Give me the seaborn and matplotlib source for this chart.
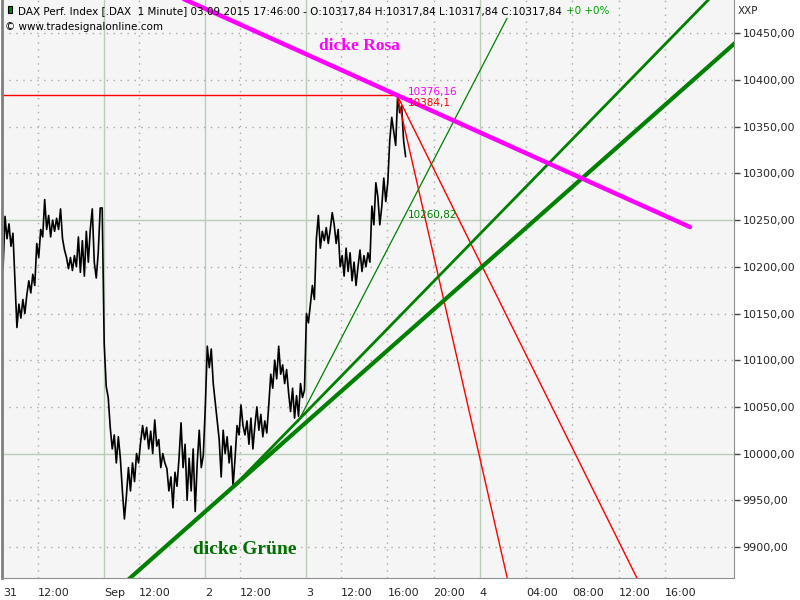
import numpy as np
import pandas as pd
import seaborn as sns
import matplotlib.pyplot as plt
from matplotlib.patches import Rectangle

# DAX 1 minute, sessions 09:00-17:45 (8.75 h per day on the time axis)
day_len = 8.75
aug31 = [10198, 10254, 10230, 10246, 10222, 10236, 10185, 10135, 10160, 10145,
         10165, 10150, 10170, 10185, 10172, 10192, 10180, 10225, 10210, 10240,
         10232, 10272, 10240, 10255, 10232, 10250, 10238, 10252, 10240, 10262,
         10230, 10218, 10210, 10198, 10210, 10196, 10212, 10200, 10232, 10194,
         10228, 10190, 10238, 10205, 10240, 10262, 10205, 10188, 10215, 10263, 10263]
sep01 = [10118, 10072, 10060, 10028, 10005, 10020, 9990, 10018, 9995, 9960,
         9930, 9955, 9985, 9960, 9990, 9970, 10000, 9990, 10012, 10030,
         10015, 10028, 10005, 10024, 10000, 10036, 10008, 10015, 9985, 10000,
         9990, 9984, 9960, 9975, 9942, 9980, 9965, 9995, 10033, 9985,
         10010, 9950, 9995, 9960, 10005, 9938, 9990, 10025, 9985, 9998]
sep02 = [10050, 10115, 10092, 10112, 10075, 10055, 10035, 10015, 9975, 10025,
         10000, 10018, 9990, 10008, 9965, 9995, 10030, 10020, 10052, 10030,
         10020, 10035, 10010, 10038, 10005, 10030, 10050, 10025, 10042, 10018,
         10035, 10022, 10052, 10085, 10070, 10100, 10080, 10115, 10085, 10095,
         10075, 10090, 10065, 10045, 10070, 10038, 10062, 10040, 10075, 10060, 10068]
sep03 = [10150, 10140, 10160, 10180, 10165, 10230, 10255, 10220, 10238, 10228,
         10242, 10225, 10240, 10258, 10245, 10225, 10240, 10200, 10212, 10190,
         10220, 10195, 10215, 10185, 10205, 10180, 10200, 10218, 10195, 10212,
         10200, 10215, 10205, 10265, 10245, 10290, 10275, 10245, 10265, 10295,
         10270, 10290, 10335, 10360, 10345, 10330, 10384, 10365, 10372, 10335, 10318]

# drawn lines (time in hours on the axis, price)
pink_x = [12.0, 59.43]
pink_y = [10507, 10242.6]
green_thick_x = [8.0, 64.0]
green_thick_y = [9834, 10447]
green_mid_x = [19.81, 61.5]
green_mid_y = [9963, 10492]
green_thin_x = [25.52, 43.6]
green_thin_y = [10034, 10466]
red_h_x = [-1.0, 34.08]
red_h_y = [10384.1, 10384.1]
red1_x = [34.08, 45.0]
red1_y = [10384.1, 9792]
red2_x = [34.08, 58.0]
red2_y = [10384.1, 9788]

xtick_pos = [0, 3, 8.75, 11.75, 17.5, 20.5, 26.25, 29.25, 33.25, 37.25,
             41.25, 45.25, 49.25, 53.25, 57.25]
xtick_lab = ['31', '12:00', 'Sep', '12:00', '2', '12:00', '3', '12:00', '16:00',
             '20:00', '4', '04:00', '08:00', '12:00', '16:00']
ytick_pos = [9900, 9950, 10000, 10050, 10100, 10150, 10200, 10250, 10300,
             10350, 10400, 10450]
ytick_lab = ['9900,00', '9950,00', '10000,00', '10050,00', '10100,00', '10150,00',
             '10200,00', '10250,00', '10300,00', '10350,00', '10400,00', '10450,00']
solid_x = [8.75, 17.5, 26.25, 41.25]
solid_y = [10000, 10250]

days = [aug31, sep01, sep02, sep03]
hrs = np.concatenate([np.linspace(i * day_len, (i + 1) * day_len, len(d), endpoint=False)
                      for i, d in enumerate(days)])
df = pd.DataFrame({'h': hrs, 'price': np.concatenate(days)})

sns.set_style('white')
plt.rcParams['font.family'] = ['DejaVu Sans']

fig = plt.figure(figsize=(8, 6), dpi=100)
ax = fig.add_axes([0.0025, 0.0367, 0.915, 0.9633])
ax.set_facecolor('#f5f5f5')

# grid
for x in xtick_pos[1:]:
    if x in solid_x:
        ax.axvline(x, color='#b9cdb9', lw=1, zorder=0)
    else:
        ax.axvline(x, color='#a8a8a8', lw=1, ls=(0, (1, 4)), zorder=0)
for y in ytick_pos:
    if y in solid_y:
        ax.axhline(y, color='#b9cdb9', lw=1, zorder=0)
    else:
        ax.axhline(y, color='#a8a8a8', lw=1, ls=(0, (1, 4)), zorder=0)

sns.lineplot(data=df, x='h', y='price', color='black', lw=1.2, estimator=None,
             sort=False, ax=ax)

sns.lineplot(x=red_h_x, y=red_h_y, color='red', lw=1, ax=ax)
sns.lineplot(x=red1_x, y=red1_y, color='red', lw=1, ax=ax)
sns.lineplot(x=red2_x, y=red2_y, color='red', lw=1, ax=ax)
sns.lineplot(x=green_thin_x, y=green_thin_y, color='#008000', lw=0.9, ax=ax)
sns.lineplot(x=green_mid_x, y=green_mid_y, color='#008000', lw=2, ax=ax)
sns.lineplot(x=green_thick_x, y=green_thick_y, color='#008000', lw=3, ax=ax)
sns.lineplot(x=pink_x, y=pink_y, color='#ff00ff', lw=3.2, ax=ax)

ax.set_xlim(-0.09, 63.24)
ax.set_ylim(9866.8, 10485.7)
ax.set_xlabel('')
ax.set_ylabel('')

ax.set_xticks(xtick_pos)
ax.set_xticklabels(xtick_lab, fontsize=8)
for lab in ax.get_xticklabels():
    lab.set_horizontalalignment('left')
ax.tick_params(axis='x', direction='out', length=5, width=1, color='black', pad=2)

ax.yaxis.tick_right()
ax.set_yticks(ytick_pos)
ax.set_yticklabels(ytick_lab, fontsize=8)
ax.tick_params(axis='y', direction='out', length=4, width=1, color='#444444', pad=2)

ax.spines['top'].set_visible(False)
ax.spines['left'].set_color('#808080')
ax.spines['left'].set_linewidth(2)
ax.spines['right'].set_color('#909090')
ax.spines['bottom'].set_color('#909090')

# value labels
ax.text(35.03, 10387, '10376,16', color='#ff00ff', fontsize=7.5, va='center')
ax.text(35.03, 10375, '10384,1', color='red', fontsize=7.5, va='center')
ax.text(35.03, 10255.5, '10260,82', color='#008000', fontsize=7.5, va='center')

ax.text(0.488, 0.920, 'dicke Rosa', transform=ax.transAxes, color='#ff00ff',
        fontsize=12.5, fontweight='bold', family='Liberation Serif', ha='center', va='center')
ax.text(0.332, 0.050, 'dicke Grüne', transform=ax.transAxes, color='#007000',
        fontsize=14, fontweight='bold', family='Liberation Serif', ha='center', va='center')

# header
ax.add_patch(Rectangle((0.0085, 0.9775), 0.0055, 0.0125, transform=ax.transAxes,
                       facecolor='#008000', edgecolor='black', lw=0.8, zorder=5))
t1 = ax.text(0.022, 0.981, 'DAX Perf. Index [.DAX  1 Minute] 03.09.2015 17:46:00 - '
             'O:10317,84 H:10317,84 L:10317,84 C:10317,84', transform=ax.transAxes,
             fontsize=7.5, va='center', color='black')
ax.annotate('+0 +0%', xy=(1, 0), xycoords=t1, xytext=(3, 0), textcoords='offset points',
            fontsize=7.5, va='bottom', color='#00a000')
ax.text(0.004, 0.953, '© www.tradesignalonline.com', transform=ax.transAxes,
        fontsize=7.5, va='center', color='black')

fig.text(738 / 800, 1 - 11 / 600, 'XXP', fontsize=7.5, va='center')

fig.savefig('out.png', dpi=100)
